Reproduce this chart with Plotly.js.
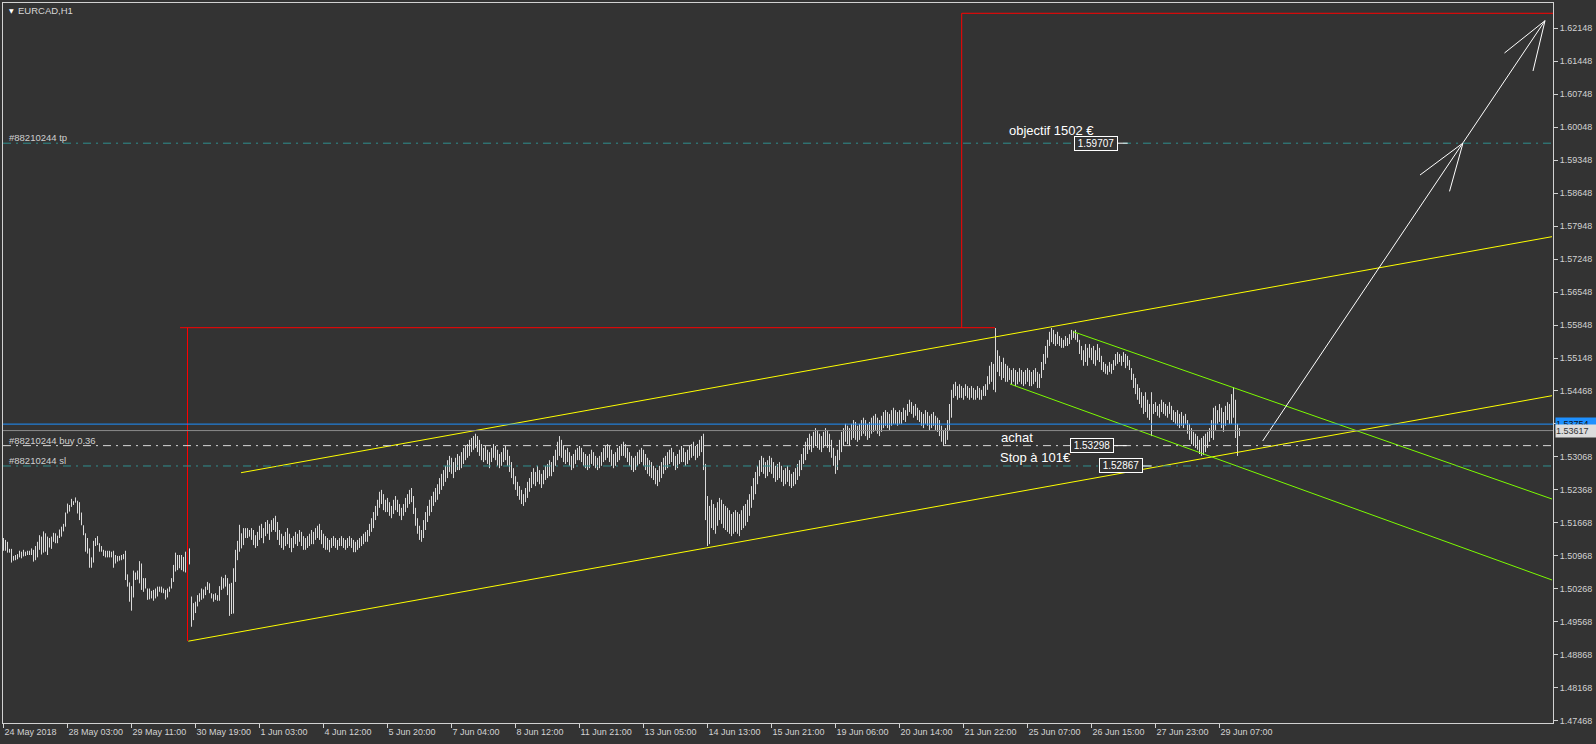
<!DOCTYPE html>
<html><head><meta charset="utf-8">
<script src="https://cdn.plot.ly/plotly-3.0.1.min.js"></script>
<style>html,body{margin:0;padding:0;background:#333333;}#chart{width:1596px;height:744px;}</style>
</head><body><div id="chart"></div>
<script>
// ---- EURCAD H1 bar highs / lows (one value per hourly bar) ----
const high = [
1.5134,1.5130,1.5126,1.5111,1.5111,1.5096,1.5098,1.5100,1.5107,1.5105,
1.5109,1.5105,1.5107,1.5107,1.5112,1.5109,1.5117,1.5126,1.5140,1.5137,
1.5148,1.5144,1.5137,1.5134,1.5137,1.5145,1.5144,1.5139,1.5152,1.5158,
1.5164,1.5188,1.5207,1.5204,1.5217,1.5212,1.5220,1.5213,1.5210,1.5188,
1.5161,1.5144,1.5134,1.5112,1.5093,1.5128,1.5134,1.5138,1.5123,1.5117,
1.5109,1.5107,1.5107,1.5107,1.5105,1.5107,1.5098,1.5096,1.5096,1.5098,
1.5100,1.5107,1.5057,1.5040,1.5032,1.5065,1.5061,1.5065,1.5085,1.5080,
1.5049,1.5049,1.5027,1.5027,1.5022,1.5024,1.5027,1.5031,1.5031,1.5031,
1.5027,1.5024,1.5027,1.5031,1.5049,1.5077,1.5103,1.5098,1.5098,1.5098,
1.5094,1.5105,1.5116,1.5112,1.5010,1.4996,1.4999,1.5013,1.5017,1.5027,
1.5025,1.5031,1.5041,1.5038,1.5017,1.5015,1.5017,1.5013,1.5032,1.5052,
1.5049,1.5056,1.5049,1.5037,1.5039,1.5070,1.5109,1.5128,1.5162,1.5144,
1.5155,1.5155,1.5155,1.5151,1.5155,1.5151,1.5140,1.5147,1.5160,1.5164,
1.5155,1.5168,1.5172,1.5164,1.5172,1.5176,1.5181,1.5168,1.5151,1.5143,
1.5138,1.5147,1.5155,1.5143,1.5134,1.5138,1.5147,1.5143,1.5151,1.5147,
1.5138,1.5134,1.5138,1.5143,1.5151,1.5147,1.5155,1.5160,1.5164,1.5151,
1.5143,1.5138,1.5134,1.5130,1.5134,1.5138,1.5134,1.5130,1.5134,1.5138,
1.5134,1.5130,1.5134,1.5138,1.5134,1.5130,1.5126,1.5130,1.5134,1.5138,
1.5143,1.5147,1.5151,1.5164,1.5176,1.5189,1.5202,1.5215,1.5232,1.5236,
1.5227,1.5215,1.5219,1.5210,1.5202,1.5215,1.5223,1.5215,1.5206,1.5198,
1.5206,1.5219,1.5227,1.5236,1.5240,1.5223,1.5198,1.5176,1.5160,1.5151,
1.5172,1.5189,1.5202,1.5215,1.5223,1.5232,1.5240,1.5248,1.5261,1.5270,
1.5278,1.5287,1.5299,1.5308,1.5304,1.5295,1.5304,1.5312,1.5308,1.5316,
1.5325,1.5329,1.5333,1.5342,1.5346,1.5350,1.5355,1.5350,1.5342,1.5333,
1.5325,1.5329,1.5321,1.5316,1.5325,1.5333,1.5329,1.5321,1.5312,1.5316,
1.5325,1.5329,1.5321,1.5308,1.5295,1.5282,1.5265,1.5253,1.5244,1.5236,
1.5227,1.5240,1.5253,1.5261,1.5274,1.5282,1.5274,1.5287,1.5278,1.5270,
1.5278,1.5287,1.5291,1.5299,1.5295,1.5308,1.5321,1.5338,1.5350,1.5342,
1.5329,1.5321,1.5325,1.5316,1.5308,1.5312,1.5321,1.5325,1.5329,1.5325,
1.5316,1.5312,1.5308,1.5312,1.5321,1.5316,1.5308,1.5304,1.5308,1.5316,
1.5325,1.5329,1.5333,1.5329,1.5321,1.5312,1.5316,1.5325,1.5329,1.5333,
1.5338,1.5333,1.5325,1.5316,1.5308,1.5304,1.5308,1.5316,1.5321,1.5325,
1.5321,1.5312,1.5304,1.5299,1.5295,1.5287,1.5282,1.5278,1.5287,1.5295,
1.5304,1.5308,1.5316,1.5321,1.5325,1.5316,1.5308,1.5312,1.5321,1.5329,
1.5325,1.5316,1.5321,1.5329,1.5333,1.5338,1.5329,1.5333,1.5342,1.5350,
1.5355,1.5291,1.5223,1.5202,1.5215,1.5206,1.5198,1.5210,1.5219,1.5215,
1.5206,1.5202,1.5198,1.5193,1.5185,1.5189,1.5193,1.5189,1.5185,1.5193,
1.5202,1.5206,1.5215,1.5227,1.5244,1.5261,1.5274,1.5287,1.5299,1.5308,
1.5304,1.5295,1.5299,1.5308,1.5304,1.5295,1.5287,1.5291,1.5295,1.5287,
1.5278,1.5282,1.5287,1.5278,1.5270,1.5274,1.5282,1.5291,1.5299,1.5312,
1.5325,1.5338,1.5346,1.5355,1.5350,1.5359,1.5367,1.5363,1.5355,1.5350,
1.5359,1.5367,1.5363,1.5355,1.5342,1.5325,1.5308,1.5321,1.5342,1.5359,
1.5367,1.5376,1.5372,1.5367,1.5376,1.5384,1.5380,1.5372,1.5376,1.5384,
1.5389,1.5384,1.5376,1.5380,1.5389,1.5393,1.5397,1.5389,1.5384,1.5393,
1.5401,1.5405,1.5401,1.5397,1.5405,1.5410,1.5405,1.5401,1.5405,1.5401,
1.5410,1.5405,1.5418,1.5427,1.5422,1.5414,1.5418,1.5410,1.5405,1.5401,
1.5397,1.5405,1.5401,1.5393,1.5397,1.5401,1.5393,1.5389,1.5384,1.5372,
1.5363,1.5367,1.5384,1.5418,1.5448,1.5460,1.5465,1.5456,1.5460,1.5456,
1.5452,1.5460,1.5456,1.5452,1.5456,1.5452,1.5448,1.5456,1.5452,1.5448,
1.5456,1.5460,1.5477,1.5499,1.5507,1.5503,1.5579,1.5532,1.5520,1.5507,
1.5516,1.5503,1.5499,1.5494,1.5490,1.5494,1.5490,1.5486,1.5494,1.5490,
1.5486,1.5490,1.5494,1.5490,1.5486,1.5490,1.5494,1.5486,1.5482,1.5507,
1.5524,1.5541,1.5554,1.5571,1.5579,1.5575,1.5566,1.5571,1.5562,1.5558,
1.5554,1.5562,1.5558,1.5566,1.5575,1.5573,1.5575,1.5566,1.5554,1.5541,
1.5532,1.5545,1.5537,1.5545,1.5537,1.5541,1.5532,1.5545,1.5537,1.5520,
1.5507,1.5503,1.5499,1.5507,1.5503,1.5511,1.5524,1.5528,1.5524,1.5520,
1.5528,1.5524,1.5520,1.5511,1.5494,1.5482,1.5473,1.5460,1.5452,1.5443,
1.5435,1.5443,1.5427,1.5418,1.5443,1.5418,1.5422,1.5414,1.5418,1.5427,
1.5422,1.5418,1.5414,1.5422,1.5414,1.5405,1.5401,1.5405,1.5397,1.5401,
1.5393,1.5397,1.5384,1.5376,1.5367,1.5359,1.5355,1.5350,1.5342,1.5346,
1.5350,1.5355,1.5359,1.5367,1.5384,1.5410,1.5414,1.5405,1.5418,1.5410,
1.5401,1.5414,1.5422,1.5418,1.5439,1.5454,1.5427,1.5376,1.5367
];
const low = [
1.5107,1.5107,1.5103,1.5103,1.5082,1.5086,1.5087,1.5089,1.5093,1.5091,
1.5095,1.5096,1.5098,1.5098,1.5098,1.5084,1.5087,1.5093,1.5109,1.5099,
1.5103,1.5105,1.5098,1.5114,1.5111,1.5126,1.5123,1.5123,1.5134,1.5137,
1.5148,1.5158,1.5186,1.5190,1.5200,1.5204,1.5209,1.5186,1.5172,1.5161,
1.5140,1.5105,1.5101,1.5071,1.5071,1.5082,1.5117,1.5119,1.5105,1.5105,
1.5096,1.5093,1.5093,1.5093,1.5093,1.5071,1.5080,1.5084,1.5086,1.5087,
1.5089,1.5045,1.5031,1.4999,1.4980,1.5008,1.5045,1.5046,1.5038,1.5024,
1.5020,1.5027,1.5003,1.5004,1.5006,1.5001,1.5006,1.5010,1.5020,1.5018,
1.5017,1.5004,1.5008,1.5020,1.5027,1.5041,1.5063,1.5066,1.5070,1.5066,
1.5063,1.5061,1.5080,1.5078,1.4946,1.4960,1.4975,1.4989,1.4999,1.5003,
1.5006,1.5013,1.5024,1.5017,1.5006,1.4999,1.5003,1.5001,1.5001,1.5024,
1.5027,1.5031,1.5013,1.4969,1.4973,1.4974,1.5041,1.5087,1.5105,1.5112,
1.5119,1.5134,1.5134,1.5137,1.5130,1.5119,1.5113,1.5117,1.5130,1.5134,
1.5123,1.5138,1.5143,1.5130,1.5147,1.5151,1.5147,1.5130,1.5119,1.5113,
1.5109,1.5117,1.5121,1.5113,1.5104,1.5113,1.5121,1.5117,1.5126,1.5117,
1.5109,1.5109,1.5113,1.5117,1.5121,1.5121,1.5130,1.5134,1.5130,1.5121,
1.5113,1.5109,1.5109,1.5104,1.5113,1.5117,1.5113,1.5109,1.5117,1.5117,
1.5113,1.5109,1.5113,1.5117,1.5113,1.5104,1.5104,1.5109,1.5113,1.5117,
1.5121,1.5126,1.5126,1.5138,1.5147,1.5155,1.5172,1.5181,1.5198,1.5206,
1.5193,1.5189,1.5189,1.5181,1.5176,1.5185,1.5193,1.5189,1.5181,1.5172,
1.5181,1.5189,1.5198,1.5206,1.5210,1.5185,1.5160,1.5143,1.5130,1.5126,
1.5134,1.5151,1.5168,1.5181,1.5189,1.5202,1.5210,1.5215,1.5227,1.5236,
1.5244,1.5253,1.5261,1.5274,1.5270,1.5261,1.5274,1.5278,1.5278,1.5282,
1.5291,1.5299,1.5304,1.5308,1.5316,1.5321,1.5325,1.5316,1.5308,1.5299,
1.5295,1.5299,1.5291,1.5282,1.5295,1.5304,1.5299,1.5287,1.5282,1.5287,
1.5295,1.5299,1.5287,1.5274,1.5261,1.5248,1.5236,1.5223,1.5215,1.5206,
1.5202,1.5210,1.5219,1.5232,1.5240,1.5248,1.5244,1.5253,1.5248,1.5240,
1.5248,1.5257,1.5261,1.5265,1.5265,1.5274,1.5287,1.5299,1.5308,1.5304,
1.5295,1.5291,1.5295,1.5287,1.5278,1.5282,1.5291,1.5299,1.5299,1.5295,
1.5287,1.5282,1.5278,1.5282,1.5291,1.5287,1.5282,1.5278,1.5282,1.5287,
1.5295,1.5299,1.5304,1.5295,1.5287,1.5282,1.5287,1.5295,1.5299,1.5308,
1.5308,1.5304,1.5295,1.5287,1.5278,1.5274,1.5278,1.5287,1.5291,1.5295,
1.5287,1.5278,1.5270,1.5265,1.5261,1.5257,1.5248,1.5244,1.5253,1.5261,
1.5270,1.5278,1.5282,1.5291,1.5295,1.5287,1.5278,1.5282,1.5291,1.5295,
1.5295,1.5287,1.5291,1.5299,1.5304,1.5308,1.5299,1.5304,1.5308,1.5316,
1.5278,1.5172,1.5117,1.5121,1.5155,1.5151,1.5143,1.5160,1.5172,1.5164,
1.5155,1.5151,1.5147,1.5143,1.5138,1.5143,1.5147,1.5143,1.5138,1.5151,
1.5155,1.5160,1.5168,1.5181,1.5198,1.5215,1.5227,1.5248,1.5265,1.5274,
1.5270,1.5261,1.5265,1.5274,1.5270,1.5261,1.5253,1.5257,1.5261,1.5253,
1.5244,1.5248,1.5253,1.5244,1.5240,1.5244,1.5248,1.5257,1.5265,1.5278,
1.5291,1.5299,1.5312,1.5321,1.5316,1.5325,1.5329,1.5325,1.5321,1.5316,
1.5325,1.5329,1.5325,1.5316,1.5304,1.5287,1.5270,1.5278,1.5299,1.5316,
1.5329,1.5338,1.5333,1.5329,1.5342,1.5346,1.5342,1.5338,1.5342,1.5350,
1.5355,1.5350,1.5342,1.5346,1.5355,1.5359,1.5363,1.5355,1.5350,1.5359,
1.5367,1.5372,1.5367,1.5363,1.5372,1.5376,1.5376,1.5372,1.5376,1.5376,
1.5384,1.5380,1.5393,1.5401,1.5397,1.5389,1.5393,1.5384,1.5380,1.5372,
1.5367,1.5376,1.5372,1.5363,1.5367,1.5372,1.5363,1.5359,1.5350,1.5338,
1.5329,1.5333,1.5342,1.5363,1.5389,1.5431,1.5435,1.5427,1.5431,1.5431,
1.5427,1.5435,1.5431,1.5427,1.5431,1.5427,1.5427,1.5431,1.5427,1.5427,
1.5435,1.5435,1.5448,1.5460,1.5465,1.5448,1.5443,1.5486,1.5477,1.5469,
1.5473,1.5465,1.5465,1.5469,1.5460,1.5465,1.5456,1.5460,1.5465,1.5460,
1.5456,1.5460,1.5465,1.5456,1.5456,1.5460,1.5465,1.5452,1.5452,1.5473,
1.5490,1.5503,1.5516,1.5541,1.5549,1.5545,1.5541,1.5545,1.5541,1.5537,
1.5537,1.5541,1.5541,1.5545,1.5554,1.5558,1.5554,1.5549,1.5524,1.5511,
1.5499,1.5507,1.5499,1.5516,1.5511,1.5503,1.5499,1.5511,1.5507,1.5490,
1.5486,1.5482,1.5480,1.5486,1.5482,1.5490,1.5499,1.5503,1.5507,1.5499,
1.5507,1.5494,1.5499,1.5490,1.5469,1.5452,1.5439,1.5427,1.5418,1.5410,
1.5397,1.5401,1.5389,1.5384,1.5350,1.5397,1.5401,1.5393,1.5389,1.5401,
1.5397,1.5393,1.5389,1.5397,1.5384,1.5380,1.5376,1.5372,1.5367,1.5372,
1.5367,1.5376,1.5355,1.5342,1.5333,1.5329,1.5325,1.5321,1.5312,1.5308,
1.5310,1.5316,1.5325,1.5338,1.5346,1.5342,1.5363,1.5376,1.5380,1.5367,
1.5359,1.5372,1.5384,1.5376,1.5376,1.5389,1.5346,1.5308,1.5350
];

// ---- time axis labels (one every 32 bars) ----
const timeTickBars = [0,32,64,96,128,160,192,224,256,288,320,352,384,416,448,480,512,544,576,608];
const timeTickLabels = ["24 May 2018","28 May 03:00","29 May 11:00","30 May 19:00","1 Jun 03:00","4 Jun 12:00","5 Jun 20:00","7 Jun 04:00","8 Jun 12:00","11 Jun 21:00","13 Jun 05:00","14 Jun 13:00","15 Jun 21:00","19 Jun 06:00","20 Jun 14:00","21 Jun 22:00","25 Jun 07:00","26 Jun 15:00","27 Jun 23:00","29 Jun 07:00"];

// ---- price axis labels ----
const priceTicks = [1.47468,1.48168,1.48868,1.49568,1.50268,1.50968,1.51668,1.52368,1.53068,1.53768,1.54468,
  1.55148,1.55848,1.56548,1.57248,1.57948,1.58648,1.59348,1.60048,1.60748,1.61448,1.62148];
const priceTickLabels = ["1.47468","1.48168","1.48868","1.49568","1.50268","1.50968","1.51668","1.52368","1.53068","","1.54468",
  "1.55148","1.55848","1.56548","1.57248","1.57948","1.58648","1.59348","1.60048","1.60748","1.61448","1.62148"];

// ---- price levels ----
const levelBlue = 1.53754;
const levelBid = 1.53617;
const levelTP = 1.59707;
const levelBuy = 1.53298;
const levelSL = 1.52867;

// ---- drawn objects: [bar, price] anchor pairs ----
const yellowUpper = [[118.75, 1.52724], [774.25, 1.57726]];
const yellowLower = [[92.4, 1.49154], [774.25, 1.54356]];
const greenUpper = [[534.9, 1.55712], [774.25, 1.52167]];
const greenLower = [[503.25, 1.54604], [774.25, 1.50451]];
const redSegments = [
  [[92.0, 1.55797], [92.0, 1.49158]],
  [[88.25, 1.55797], [495.75, 1.55797]],
  [[479.1, 1.55797], [479.1, 1.62460]],
  [[479.1, 1.62460], [800, 1.62460]]
];
const whiteSegments = [
  [[629.6, 1.53396], [770.75, 1.62303]],
  [[770.75, 1.62303], [750.5, 1.61619]],
  [[770.75, 1.62303], [764.75, 1.61237]],
  [[729.75, 1.59711], [708.25, 1.59033]],
  [[729.75, 1.59711], [723.0, 1.58686]]
];

const FG = '#d2d2d2';
const FONT = 'Liberation Sans, Arial, sans-serif';

// bars as vertical high-low strokes
const bx = [], by = [];
for (let i = 0; i < high.length; i++) { bx.push(i, i, null); by.push(low[i], high[i], null); }

function segTrace(segs, color) {
  const x = [], y = [];
  segs.forEach(s => { x.push(s[0][0], s[1][0], null); y.push(s[0][1], s[1][1], null); });
  return {type:'scatter', mode:'lines', x, y, line:{color, width:1}, hoverinfo:'skip', showlegend:false, cliponaxis:true};
}

const traces = [
  {type:'scatter', mode:'lines', x:bx, y:by, line:{color:'#dadada', width:1}, hoverinfo:'skip', connectgaps:false},
  segTrace(redSegments, '#ff0000'),
  segTrace([yellowUpper, yellowLower], '#ffff00'),
  segTrace([greenUpper, greenLower], '#7cfc00'),
  segTrace(whiteSegments, '#ffffff')
];

function hline(y, color, dash) {
  return {type:'line', xref:'paper', yref:'y', x0:0, x1:1, y0:y, y1:y, line:{color, width:1, dash:dash||'solid'}};
}
function tail(x0, x1, y) {
  return {type:'line', xref:'x', yref:'y', x0, x1, y0:y, y1:y, line:{color:'#ffffff', width:1}};
}
const DASHDOT = '8px,5px,2px,5px';
const shapes = [
  hline(levelTP, '#2f8f8f', DASHDOT),
  hline(levelSL, '#2f8f8f', DASHDOT),
  hline(levelBuy, '#d8d8d8', DASHDOT),
  hline(levelBid, '#8a8a8a'),
  hline(levelBlue, '#1e90ff'),
  tail(557.1, 562.1, levelTP),
  tail(554.9, 561.6, levelBuy),
  tail(569.1, 574.1, levelSL)
];

function leftLabel(text, y) {
  return {xref:'paper', yref:'y', x:0, xshift:4, y, xanchor:'left', yanchor:'bottom', yshift:-2,
    text, showarrow:false, font:{family:FONT, size:9.5, color:'#cfcfcf'}};
}
function priceBox(x, y, text) {
  return {xref:'x', yref:'y', x, y, text, showarrow:false, xanchor:'center', yanchor:'middle',
    bgcolor:'#333333', bordercolor:'#ffffff', borderwidth:1, borderpad:1, width:40, height:11,
    font:{family:FONT, size:10, color:'#ffffff'}};
}
function chartText(x, y, text) {
  return {xref:'x', yref:'y', x, y, text, showarrow:false, xanchor:'left', yanchor:'middle',
    font:{family:FONT, size:13, color:'#ffffff'}};
}
function axisTag(y, text, bg, fg) {
  return {xref:'paper', yref:'y', x:1, xshift:2, y, xanchor:'left', yanchor:'middle', text, showarrow:false,
    bgcolor:bg, borderpad:0, width:41, height:12, align:'left', font:{family:FONT, size:9, color:fg}};
}

const annotations = [
  {xref:'paper', yref:'paper', x:0, y:1, xanchor:'left', yanchor:'middle', xshift:4, yshift:-7, text:'▼', showarrow:false, font:{family:'DejaVu Sans', size:6, color:'#ffffff'}},
  {xref:'paper', yref:'paper', x:0, y:1, xanchor:'left', yanchor:'middle', xshift:13, yshift:-7.7, text:'EURCAD,H1', showarrow:false, font:{family:FONT, size:9.5, color:'#d8d8d8'}},
  leftLabel('#88210244 tp', levelTP),
  leftLabel('#88210244 buy 0.36', levelBuy),
  leftLabel('#88210244 sl', levelSL),
  chartText(501.9, 1.59972, 'objectif 1502 €'),
  chartText(497.9, 1.53475, 'achat'),
  chartText(497.4, 1.53051, 'Stop à 101€'),
  priceBox(546.45, levelTP, '1.59707'),
  priceBox(544.35, levelBuy, '1.53298'),
  priceBox(558.5, levelSL, '1.52867'),
  axisTag(levelBlue, '1.53754', '#1e90ff', '#111111'),
  axisTag(levelBid, '1.53617', '#dcdcdc', '#333333')
];

const layout = {
  width:1596, height:744,
  paper_bgcolor:'#333333', plot_bgcolor:'#333333',
  margin:{l:3, r:43, t:3, b:21, pad:0},
  showlegend:false, hovermode:false, dragmode:false,
  xaxis:{range:[-0.25, 774.75], tickmode:'array', tickvals:timeTickBars, ticktext:timeTickLabels,
    ticks:'outside', ticklen:4, tickcolor:FG, tickwidth:1, ticklabelposition:'outside right',
    showline:true, mirror:true, linecolor:FG, linewidth:1, showgrid:false, zeroline:false,
    tickfont:{family:FONT, size:9, color:FG}, fixedrange:true},
  yaxis:{side:'right', range:[1.47420, 1.62678], tickmode:'array', tickvals:priceTicks, ticktext:priceTickLabels,
    ticks:'outside', ticklen:4, tickcolor:FG, tickwidth:1,
    showline:true, mirror:true, linecolor:FG, linewidth:1, showgrid:false, zeroline:false,
    tickfont:{family:FONT, size:9, color:FG}, fixedrange:true},
  shapes, annotations
};

Plotly.newPlot('chart', traces, layout, {displayModeBar:false, staticPlot:true});
</script>
</body></html>
